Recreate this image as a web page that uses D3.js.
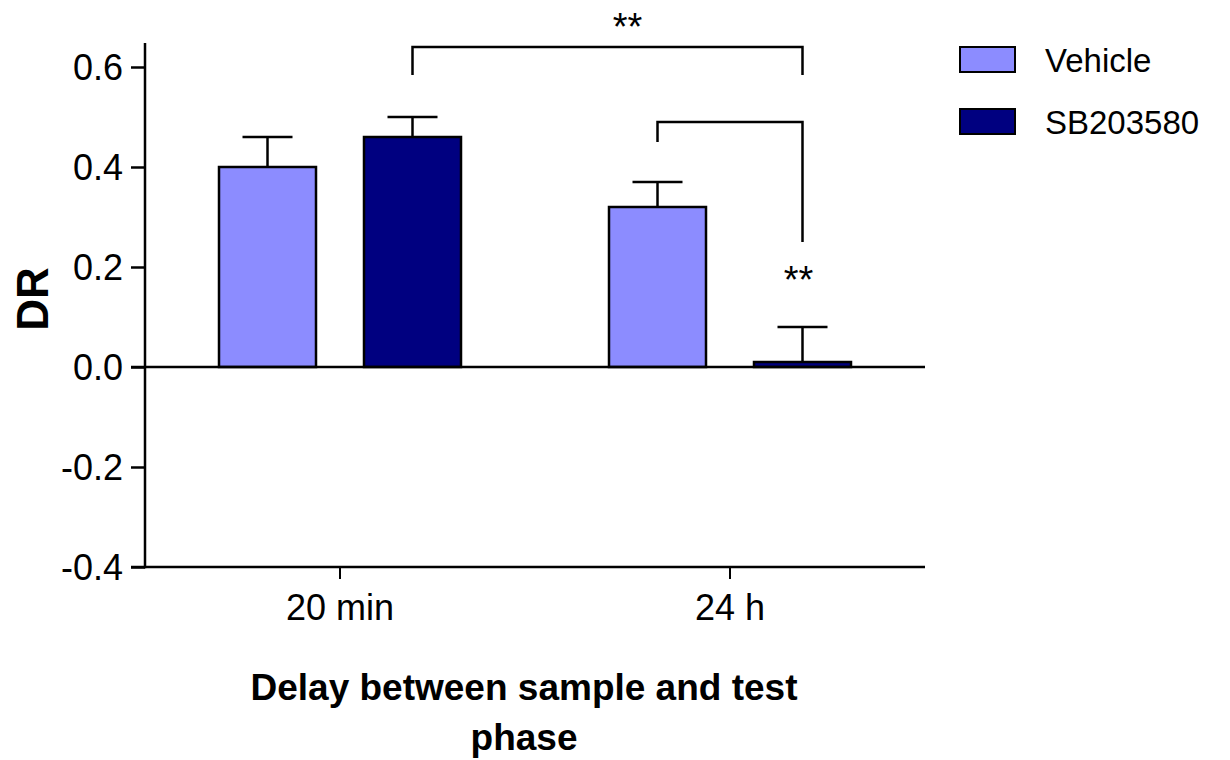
<!DOCTYPE html>
<html>
<head>
<meta charset="utf-8">
<script src="https://cdn.jsdelivr.net/npm/d3@7"></script>
<style>
  html, body { margin: 0; padding: 0; background: #fff; }
  svg { display: block; font-family: "Liberation Sans", Arial, sans-serif; }
</style>
</head>
<body>
<svg id="chart" width="1230" height="760"></svg>
<script>
// Delay conditions and treatment groups
const delays = ["20 min", "24 h"];
const groups = ["Vehicle", "SB203580"];
const colors = ["#8c8cff", "#000080"];

// Mean discrimination ratio and upper error (mean + SEM) per delay, per group
const vehicleMean = [0.40, 0.32];
const vehicleUpper = [0.46, 0.37];
const sbMean = [0.46, 0.01];
const sbUpper = [0.50, 0.08];

const yTicks = [-0.4, -0.2, 0.0, 0.2, 0.4, 0.6];

// Significance brackets: endpoints (delay, group), bar level and foot levels in DR units
const brackets = [
  { x0: ["20 min", "SB203580"], x1: ["24 h", "SB203580"], level: 0.64, foot0: 0.584, foot1: 0.584 },
  { x0: ["24 h", "Vehicle"], x1: ["24 h", "SB203580"], level: 0.49, foot0: 0.45, foot1: 0.25 }
];
const starLabels = [
  { at: ["20 min", "SB203580"], to: ["24 h", "SB203580"], shift: 20, value: 0.655, text: "**" },
  { at: ["24 h", "SB203580"], to: ["24 h", "SB203580"], shift: -4, value: 0.148, text: "**" }
];

const rows = [];
delays.forEach((d, i) => {
  rows.push({ delay: d, group: groups[0], mean: vehicleMean[i], upper: vehicleUpper[i] });
  rows.push({ delay: d, group: groups[1], mean: sbMean[i], upper: sbUpper[i] });
});

const svg = d3.select("#chart");
const left = 145, right = 925;
const font = "Liberation Sans, Arial, sans-serif";

const x0 = d3.scaleBand().domain(delays).range([left, right]).padding(0);
const x1 = d3.scaleBand().domain(groups).range([74, 316]).paddingInner(0.331).paddingOuter(0);
const y = d3.scaleLinear().domain([-0.4, 0.648]).range([567, 43]);
const color = d3.scaleOrdinal().domain(groups).range(colors);

const cx = ([d, g]) => x0(d) + x1(g) + x1.bandwidth() / 2;

// Bars
svg.append("g").selectAll("rect").data(rows).join("rect")
  .attr("x", d => x0(d.delay) + x1(d.group))
  .attr("width", x1.bandwidth())
  .attr("y", d => y(Math.max(0, d.mean)))
  .attr("height", d => Math.abs(y(d.mean) - y(0)))
  .attr("fill", d => color(d.group))
  .attr("stroke", "#000")
  .attr("stroke-width", 2.5);

// Error bars (upper only)
const err = svg.append("g").attr("stroke", "#000").attr("stroke-width", 2.5);
err.selectAll("line.stem").data(rows).join("line")
  .attr("class", "stem")
  .attr("x1", d => cx([d.delay, d.group]))
  .attr("x2", d => cx([d.delay, d.group]))
  .attr("y1", d => y(d.mean))
  .attr("y2", d => y(d.upper));
err.selectAll("line.cap").data(rows).join("line")
  .attr("class", "cap")
  .attr("x1", d => cx([d.delay, d.group]) - 25)
  .attr("x2", d => cx([d.delay, d.group]) + 25)
  .attr("y1", d => y(d.upper))
  .attr("y2", d => y(d.upper));

// Y axis
const yAxis = svg.append("g")
  .attr("transform", `translate(${left},0)`)
  .call(d3.axisLeft(y).tickValues(yTicks).tickSize(14).tickPadding(8)
    .tickFormat(d => d3.format(".1f")(d).replace("\u2212", "-")));
yAxis.select(".domain").remove();
yAxis.selectAll(".tick line").attr("stroke", "#000").attr("stroke-width", 2.5);
yAxis.selectAll(".tick text").attr("font-size", 36).attr("fill", "#000")
  .attr("font-family", font).attr("dy", "0.35em");
svg.append("line")
  .attr("x1", left).attr("x2", left)
  .attr("y1", y(0.648)).attr("y2", y(-0.4) + 1.25)
  .attr("stroke", "#000").attr("stroke-width", 2.5);

// Zero line and bottom axis line
[0, -0.4].forEach(v => {
  svg.append("line")
    .attr("x1", left - 14).attr("x2", right)
    .attr("y1", y(v)).attr("y2", y(v))
    .attr("stroke", "#000").attr("stroke-width", 2.5);
});

// X axis ticks and labels
const xAxis = svg.append("g")
  .attr("transform", `translate(0,${y(-0.4)})`)
  .call(d3.axisBottom(x0).tickSize(12).tickPadding(15));
xAxis.select(".domain").remove();
xAxis.selectAll(".tick line").attr("stroke", "#000").attr("stroke-width", 2);
xAxis.selectAll(".tick text").attr("font-size", 36).attr("fill", "#000")
  .attr("font-family", font);

// Significance brackets
const br = svg.append("g").attr("stroke", "#000").attr("stroke-width", 2.5).attr("fill", "none");
br.selectAll("path").data(brackets).join("path")
  .attr("d", b => `M${cx(b.x0)},${y(b.foot0)}V${y(b.level)}H${cx(b.x1)}V${y(b.foot1)}`);

svg.append("g").selectAll("text").data(starLabels).join("text")
  .attr("x", s => (cx(s.at) + cx(s.to)) / 2 + s.shift)
  .attr("y", s => y(s.value))
  .attr("text-anchor", "middle")
  .attr("font-size", 38)
  .attr("font-family", font)
  .attr("fill", "#000")
  .text(s => s.text);

// Axis titles
svg.append("text")
  .attr("transform", `translate(48,${y(0.136)}) rotate(-90)`)
  .attr("text-anchor", "middle")
  .attr("font-size", 44).attr("font-weight", "bold")
  .attr("font-family", font)
  .text("DR");

const xTitle = svg.append("text")
  .attr("text-anchor", "middle")
  .attr("font-size", 37).attr("font-weight", "bold")
  .attr("font-family", font);
xTitle.append("tspan").attr("x", 524).attr("y", 700).text("Delay between sample and test");
xTitle.append("tspan").attr("x", 524).attr("y", 750).text("phase");

// Legend
const legend = svg.append("g").attr("transform", "translate(960,47)");
const item = legend.selectAll("g").data(groups).join("g")
  .attr("transform", (d, i) => `translate(0,${i * 62})`);
item.append("rect")
  .attr("width", 55).attr("height", 25)
  .attr("fill", d => color(d))
  .attr("stroke", "#000").attr("stroke-width", 2);
item.append("text")
  .attr("x", 85).attr("y", 25)
  .attr("font-size", 33).attr("fill", "#000")
  .attr("font-family", font)
  .text(d => d);
</script>
</body>
</html>
